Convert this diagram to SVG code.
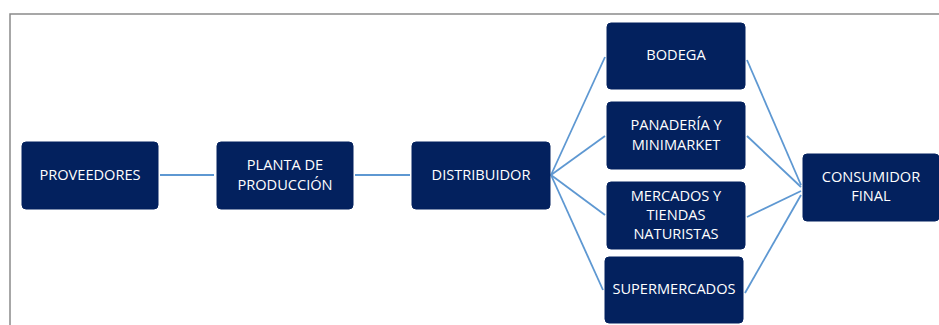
<svg xmlns="http://www.w3.org/2000/svg" width="939" height="325" viewBox="0 0 939 325">
<style>
.n{fill:#03215e;stroke:#03215e;stroke-width:1}
.t{fill:#ffffff;font-family:"Open Sans","Liberation Sans",sans-serif;font-size:14.6px;text-anchor:middle}
.c{stroke:#5e98d2;stroke-width:1.8;fill:none}
</style>
<rect width="939" height="325" fill="#ffffff"/>
<path d="M10,325 V14 H939" fill="none" stroke="#8a8a8a" stroke-width="1.5"/>
<g id="connectors">
<line class="c" x1="160" y1="175" x2="214" y2="175"/>
<line class="c" x1="355" y1="175" x2="410" y2="175"/>
<line class="c" x1="551" y1="175" x2="605" y2="57"/>
<line class="c" x1="551" y1="175" x2="605" y2="136"/>
<line class="c" x1="551" y1="175" x2="605" y2="215"/>
<line class="c" x1="551" y1="175" x2="603" y2="290"/>
<line class="c" x1="747" y1="60" x2="801" y2="185"/>
<line class="c" x1="747" y1="136" x2="801" y2="187"/>
<line class="c" x1="747" y1="217" x2="801" y2="191"/>
<line class="c" x1="745" y1="293" x2="801" y2="195"/>
</g>
<g id="proveedores"><rect class="n" x="22" y="142" width="136" height="67" rx="4"/><text class="t" x="90" y="180">PROVEEDORES</text></g>
<g id="planta"><rect class="n" x="217" y="142" width="136" height="67" rx="4"/><text class="t" x="285" y="170">PLANTA DE</text><text class="t" x="285" y="190">PRODUCCIÓN</text></g>
<g id="distribuidor"><rect class="n" x="412" y="142" width="138" height="67" rx="4"/><text class="t" x="481" y="180">DISTRIBUIDOR</text></g>
<g id="bodega"><rect class="n" x="607" y="23" width="138" height="66" rx="4"/><text class="t" x="676" y="60">BODEGA</text></g>
<g id="panaderia"><rect class="n" x="607" y="102" width="138" height="67" rx="4"/><text class="t" x="676" y="130">PANADERÍA Y</text><text class="t" x="676" y="150">MINIMARKET</text></g>
<g id="mercados"><rect class="n" x="607" y="182" width="138" height="67" rx="4"/><text class="t" x="676" y="201">MERCADOS Y</text><text class="t" x="676" y="220">TIENDAS</text><text class="t" x="676" y="239">NATURISTAS</text></g>
<g id="supermercados"><rect class="n" x="605" y="257" width="138" height="66" rx="4"/><text class="t" x="674" y="294">SUPERMERCADOS</text></g>
<g id="consumidor"><rect class="n" x="803" y="154" width="136" height="67" rx="4"/><text class="t" x="871" y="182">CONSUMIDOR</text><text class="t" x="871" y="201">FINAL</text></g>
</svg>
